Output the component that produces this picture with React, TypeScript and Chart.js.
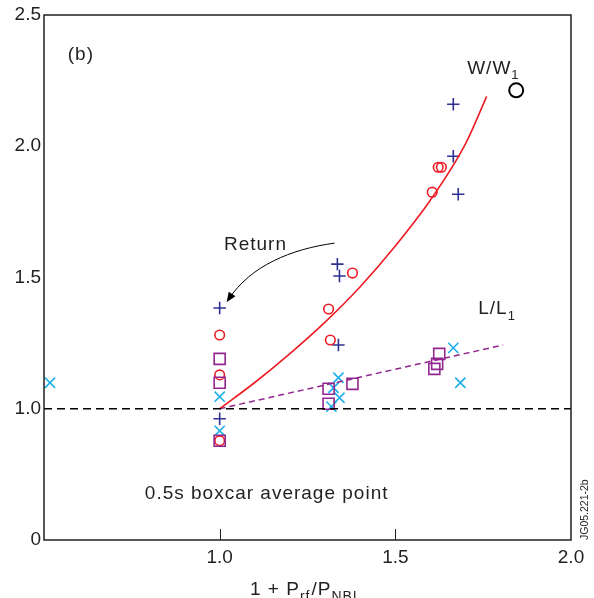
import React, { useEffect, useRef } from "react";
import { Chart, registerables } from "chart.js";
Chart.register(...registerables);

// ---- data (y values on the upper, linear part of the broken axis) ----
const plusX = [1.0, 1.0, 1.335, 1.341, 1.338, 1.665, 1.665, 1.679];
const plusY = [1.384, 0.962, 1.551, 1.506, 1.243, 2.16, 1.962, 1.817];

const circleX = [1.0, 1.0, 1.0, 1.378, 1.31, 1.315, 1.622, 1.631, 1.605];
const circleY = [1.281, 1.129, 0.878, 1.517, 1.38, 1.262, 1.92, 1.92, 1.825];

const squareX = [1.0, 1.0, 1.0, 1.31, 1.378, 1.31, 1.625, 1.619, 1.611];
const squareY = [1.19, 1.099, 0.878, 1.076, 1.095, 1.019, 1.209, 1.171, 1.152];

const crossX = [0.517, 1.0, 1.0, 1.338, 1.324, 1.341, 1.318, 1.665, 1.685];
const crossY = [1.099, 1.046, 0.916, 1.118, 1.08, 1.042, 1.008, 1.232, 1.099];

const wFitX = [1.0, 1.1, 1.2, 1.3, 1.4, 1.5, 1.6, 1.7, 1.76];
const wFitY = [1.0, 1.1, 1.21, 1.33, 1.465, 1.62, 1.795, 2.01, 2.19];

const lFitX = [1.0, 1.807];
const lFitY = [1.0, 1.243];

const refX = [0.5, 2.0];
const refY = [1.0, 1.0];

const wMarkerX = [1.844];
const wMarkerY = [2.213];

const xTicks = [1.0, 1.5, 2.0];
const xTickLabels = ["1.0", "1.5", "2.0"];
const yTicks = [0.5, 1.0, 1.5, 2.0, 2.5];
const yTickLabels = ["0", "1.0", "1.5", "2.0", "2.5"];

const FONT = "'Liberation Sans', Arial, Helvetica, sans-serif";
const INK = "#231f20";
const NAVY = "#2e3192";
const RED = "#ed1c24";
const PURPLE = "#92278f";
const CYAN = "#1cafe8";

const pts = (xs: number[], ys: number[]) => xs.map((x, i) => ({ x, y: ys[i] }));

const overlay = {
  id: "overlay",
  afterDatasetsDraw(chart: any) {
    const ctx = chart.ctx as CanvasRenderingContext2D;
    const xs = chart.scales.x;
    const ys = chart.scales.y;
    const px = (v: number) => xs.getPixelForValue(v);
    const py = (v: number) => ys.getPixelForValue(v);
    const { left, right, top, bottom } = chart.chartArea;
    ctx.save();
    // frame
    ctx.strokeStyle = INK;
    ctx.lineWidth = 1.5;
    ctx.beginPath();
    ctx.rect(left, top, right - left, bottom - top);
    ctx.stroke();
    // inward x ticks
    ctx.lineWidth = 1;
    ctx.beginPath();
    [1.0, 1.5].forEach((v) => {
      const x = Math.round(px(v)) + 0.5;
      ctx.moveTo(x, bottom);
      ctx.lineTo(x, bottom - 11);
    });
    ctx.stroke();

    // texts
    (ctx as any).letterSpacing = "1px";
    ctx.fillStyle = INK;
    ctx.textBaseline = "middle";
    ctx.font = `19px ${FONT}`;
    ctx.textAlign = "center";
    ctx.fillText("(b)", px(0.605), py(2.35));
    ctx.fillText("Return", px(1.102), py(1.624));
    ctx.textAlign = "left";
    ctx.fillText("0.5s boxcar average point", px(0.787), py(0.677));

    const sub = (main: string, s: string, x: number, y: number, size = 19, ssize = 13, dy = 7) => {
      ctx.font = `${size}px ${FONT}`;
      ctx.fillText(main, x, y);
      const w = ctx.measureText(main).width;
      ctx.font = `${ssize}px ${FONT}`;
      ctx.fillText(s, x + w, y + dy);
      return x + w + ctx.measureText(s).width;
    };
    sub("W/W", "1", px(1.7045), py(2.297));
    sub("L/L", "1", px(1.736), py(1.38));

    // x axis title
    ctx.textBaseline = "alphabetic";
    let tx = 250;
    const base = 595;
    tx = sub("1 + P", "rf", tx, base, 19, 14, 6);
    sub("/P", "NBI", tx + 1, base, 19, 14, 6);
    (ctx as any).letterSpacing = "0px";

    // rotated id label
    ctx.save();
    ctx.translate(588, 540);
    ctx.rotate(-Math.PI / 2);
    ctx.font = `10.5px ${FONT}`;
    ctx.textAlign = "left";
    ctx.textBaseline = "alphabetic";
    ctx.fillText("JG05.221-2b", 0, 0);
    ctx.restore();

    // curved arrow
    const p0 = [px(1.327), py(1.631)];
    const c1 = [px(1.202), py(1.608)];
    const c2 = [px(1.088), py(1.544)];
    const p2 = [px(1.026), py(1.418)];
    ctx.strokeStyle = "#000";
    ctx.lineWidth = 1;
    ctx.beginPath();
    ctx.moveTo(p0[0], p0[1]);
    ctx.bezierCurveTo(c1[0], c1[1], c2[0], c2[1], p2[0], p2[1]);
    ctx.stroke();
    const ang = Math.atan2(p2[1] - c2[1], p2[0] - c2[0]);
    const L = 10, W = 4;
    const tipX = p2[0] + Math.cos(ang) * 4;
    const tipY = p2[1] + Math.sin(ang) * 4;
    ctx.fillStyle = "#000";
    ctx.beginPath();
    ctx.moveTo(tipX, tipY);
    ctx.lineTo(tipX - L * Math.cos(ang) + W * Math.sin(ang), tipY - L * Math.sin(ang) - W * Math.cos(ang));
    ctx.lineTo(tipX - L * Math.cos(ang) - W * Math.sin(ang), tipY - L * Math.sin(ang) + W * Math.cos(ang));
    ctx.closePath();
    ctx.fill();
    ctx.restore();
  },
};

export default function App() {
  const ref = useRef<HTMLCanvasElement | null>(null);
  useEffect(() => {
    document.body.style.margin = "0";
    const canvas = ref.current!;
    const chart = new Chart(canvas, {
      type: "scatter",
      data: {
        datasets: [
          {
            data: pts(refX, refY),
            showLine: true,
            pointRadius: 0,
            borderColor: "#000",
            borderWidth: 1.6,
            borderDash: [8, 5],
          },
          {
            data: pts(wFitX, wFitY),
            showLine: true,
            pointRadius: 0,
            borderColor: RED,
            borderWidth: 1.6,
            cubicInterpolationMode: "monotone",
          },
          {
            data: pts(lFitX, lFitY),
            showLine: true,
            pointRadius: 0,
            borderColor: PURPLE,
            borderWidth: 1.5,
            borderDash: [6, 4],
          },
          {
            data: pts(squareX, squareY),
            pointStyle: "rect",
            pointRadius: 7.8,
            borderColor: PURPLE,
            backgroundColor: "rgba(0,0,0,0)",
            borderWidth: 1.6,
          },
          {
            data: pts(circleX, circleY),
            pointStyle: "circle",
            pointRadius: 4.8,
            borderColor: RED,
            backgroundColor: "rgba(0,0,0,0)",
            borderWidth: 1.6,
          },
          {
            data: pts(crossX, crossY),
            pointStyle: "crossRot",
            pointRadius: 7.2,
            borderColor: CYAN,
            borderWidth: 1.6,
          },
          {
            data: pts(plusX, plusY),
            pointStyle: "cross",
            pointRadius: 6.2,
            borderColor: NAVY,
            borderWidth: 1.6,
          },
          {
            data: pts(wMarkerX, wMarkerY),
            pointStyle: "circle",
            pointRadius: 7,
            borderColor: "#000",
            backgroundColor: "rgba(0,0,0,0)",
            borderWidth: 2,
          },
        ],
      },
      options: {
        responsive: false,
        animation: false,
        layout: { padding: { top: 15, right: 23, left: 0, bottom: 0 } },
        plugins: { legend: { display: false }, tooltip: { enabled: false } },
        scales: {
          x: {
            type: "linear",
            min: 0.5,
            max: 2.0,
            afterBuildTicks: (s: any) => {
              s.ticks = xTicks.map((v) => ({ value: v }));
            },
            afterFit: (s: any) => {
              s.height = 58;
            },
            ticks: {
              autoSkip: false,
              maxRotation: 0,
              padding: 6,
              color: INK,
              font: { family: FONT, size: 19 },
              callback: (v: any) => {
                const i = xTicks.indexOf(Number(v));
                return i >= 0 ? xTickLabels[i] : "";
              },
            },
            grid: { display: false, drawTicks: false },
            border: { display: false },
          },
          y: {
            type: "linear",
            min: 0.5,
            max: 2.5,
            afterBuildTicks: (s: any) => {
              s.ticks = yTicks.map((v) => ({ value: v }));
            },
            afterFit: (s: any) => {
              s.width = 44;
            },
            ticks: {
              autoSkip: false,
              padding: 3,
              color: INK,
              font: { family: FONT, size: 19 },
              callback: (v: any) => {
                const i = yTicks.indexOf(Number(v));
                return i >= 0 ? yTickLabels[i] : "";
              },
            },
            grid: { display: false, drawTicks: false },
            border: { display: false },
          },
        },
      },
      plugins: [overlay],
    } as any);
    return () => chart.destroy();
  }, []);
  return (
    <div style={{ width: 594, height: 598, background: "#fff" }}>
      <canvas ref={ref} width={594} height={598} style={{ display: "block" }} />
    </div>
  );
}
